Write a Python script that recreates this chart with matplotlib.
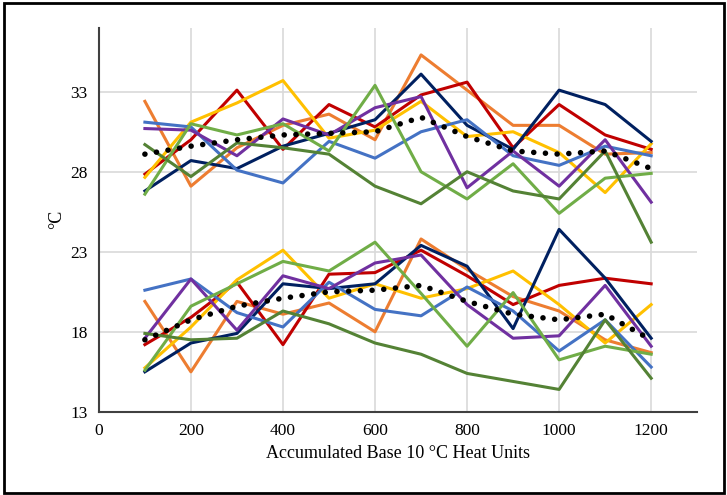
import matplotlib.pyplot as plt
from matplotlib.patches import Rectangle

plt.rcParams['font.family'] = ['Liberation Serif', 'DejaVu Serif']

heat_units = [100, 200, 300, 400, 500, 600, 700, 800, 900, 1000, 1100, 1200]

# upper group of series
up_orange = [32.4, 27.1, 29.5, 30.9, 31.6, 30.0, 35.3, 33.1, 30.9, 30.9, 29.1, 29.2]
up_red = [27.85, 30.0, 33.1, 29.4, 32.2, 30.8, 32.8, 33.6, 29.5, 32.2, 30.3, 29.4]
up_yellow = [27.65, 31.1, 32.3, 33.7, 30.1, 30.6, 32.4, 30.2, 30.5, 29.2, 26.7, 29.75]
up_navy = [26.8, 28.7, 28.2, 29.6, 30.4, 31.25, 34.1, 30.9, 29.4, 33.1, 32.2, 29.9]
up_blue = [31.1, 30.8, 28.1, 27.3, 29.9, 28.85, 30.5, 31.25, 29.0, 28.4, 29.6, 29.0]
up_purple = [30.7, 30.6, 29.0, 31.3, 30.3, 32.0, 32.7, 27.0, 29.3, 27.1, 30.0, 26.1]
up_lgreen = [26.6, 31.0, 30.3, 31.0, 29.3, 33.4, 28.0, 26.3, 28.5, 25.4, 27.6, 27.9]
up_dgreen = [29.7, 27.7, 29.8, 29.5, 29.1, 27.1, 26.0, 28.0, 26.8, 26.3, 29.3, 23.6]
up_mean = [29.1, 29.6, 30.0, 30.3, 30.4, 30.5, 31.4, 30.2, 29.3, 29.1, 29.3, 28.2]

# lower group of series
lo_orange = [19.9, 15.5, 19.9, 19.1, 19.8, 18.0, 23.8, 21.9, 20.2, 19.3, 17.5, 16.7]
lo_red = [17.2, 18.9, 21.1, 17.2, 21.6, 21.7, 23.1, 21.5, 19.7, 20.9, 21.35, 21.0]
lo_yellow = [15.75, 18.3, 21.25, 23.1, 20.1, 21.0, 20.1, 20.7, 21.8, 19.7, 17.3, 19.7]
lo_navy = [15.5, 17.3, 17.9, 21.0, 20.7, 21.0, 23.4, 22.1, 18.2, 24.4, 21.35, 17.6]
lo_blue = [20.6, 21.3, 19.2, 18.3, 21.1, 19.4, 19.0, 20.8, 19.3, 16.8, 18.75, 15.8]
lo_purple = [17.6, 21.3, 18.1, 21.5, 20.7, 22.3, 22.8, 19.7, 17.6, 17.75, 20.9, 17.1]
lo_lgreen = [15.6, 19.6, 21.0, 22.4, 21.8, 23.6, 20.4, 17.1, 20.45, 16.25, 17.1, 16.6]
lo_dgreen = [17.9, 17.5, 17.6, 19.3, 18.5, 17.3, 16.6, 15.4, 14.9, 14.4, 18.75, 15.1]
lo_mean = [17.5, 18.75, 19.6, 20.1, 20.5, 20.6, 20.9, 19.9, 19.1, 18.75, 19.1, 17.5]

colors = {
    'orange': '#ED7D31', 'red': '#C00000', 'yellow': '#FFC000', 'navy': '#002060',
    'blue': '#4472C4', 'purple': '#7030A0', 'lgreen': '#70AD47', 'dgreen': '#548235',
}

fig = plt.figure(figsize=(7.27, 4.95), dpi=100)
ax = fig.add_axes([0.136, 0.168, 0.823, 0.776])

groups = [
    (up_orange, up_red, up_yellow, up_navy, up_blue, up_purple, up_lgreen, up_dgreen, up_mean),
    (lo_orange, lo_red, lo_yellow, lo_navy, lo_blue, lo_purple, lo_lgreen, lo_dgreen, lo_mean),
]
names = ['orange', 'red', 'yellow', 'navy', 'blue', 'purple', 'lgreen', 'dgreen']
for g in groups:
    for name, vals in zip(names, g[:8]):
        ax.plot(heat_units, vals, color=colors[name], lw=2.2, zorder=3)
    # average line drawn as round dots
    ax.plot(heat_units, g[8], color='black', lw=4, ls=(0, (0.01, 2.1)),
            dash_capstyle='round', zorder=4)

ax.set_xlim(0, 1300)
ax.set_ylim(13, 37)
ax.set_xticks(range(0, 1201, 200))
ax.set_yticks([13, 18, 23, 28, 33])
ax.grid(True, color='#d9d9d9', lw=1.2, zorder=0)
ax.set_axisbelow(True)
for s in ['top', 'right']:
    ax.spines[s].set_visible(False)
for s in ['left', 'bottom']:
    ax.spines[s].set_color('#404040')
    ax.spines[s].set_linewidth(1.5)
ax.tick_params(length=0, labelsize=12.5, pad=8)
ax.set_xlabel('Accumulated Base 10 °C Heat Units', fontsize=13)
ax.set_ylabel('°C', fontsize=13)

fig.patches.append(Rectangle((0.006, 0.004), 0.99, 0.99, transform=fig.transFigure,
                             fill=False, ec='black', lw=2))

fig.savefig('out.png', dpi=100)
